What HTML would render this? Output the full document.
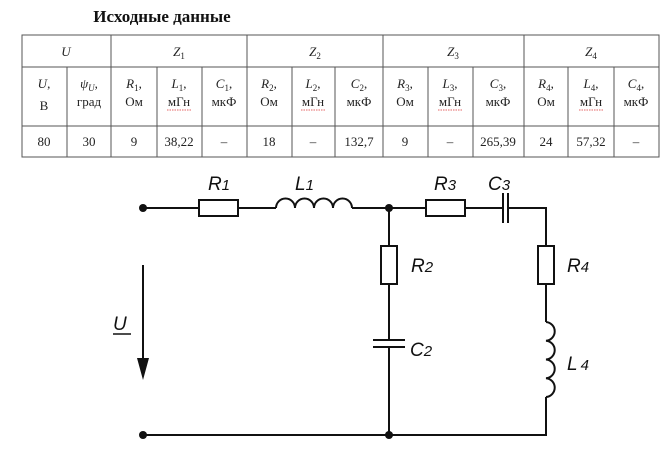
<!DOCTYPE html>
<html><head><meta charset="utf-8"><style>
html,body{margin:0;padding:0;background:#fff;}
svg{display:block;}
.t{font-family:"Liberation Serif",serif;font-size:13px;fill:#222;text-anchor:middle;}
.i{font-style:italic;}
.c{font-family:"Liberation Sans","DejaVu Sans",sans-serif;font-style:italic;font-size:19px;fill:#111;}
</style></head><body>
<svg width="666" height="453" viewBox="0 0 666 453" xmlns="http://www.w3.org/2000/svg">
<text x="162" y="22" font-family="Liberation Serif,serif" font-weight="bold" font-size="17" text-anchor="middle" fill="#111">Исходные данные</text>
<g stroke="#555" stroke-width="1" fill="none">
<rect x="22" y="35" width="637" height="122"/>
<line x1="22" y1="67" x2="659" y2="67"/>
<line x1="22" y1="126" x2="659" y2="126"/>
<line x1="111" y1="35" x2="111" y2="157"/>
<line x1="247" y1="35" x2="247" y2="157"/>
<line x1="383" y1="35" x2="383" y2="157"/>
<line x1="524" y1="35" x2="524" y2="157"/>
<line x1="67" y1="67" x2="67" y2="157"/>
<line x1="157" y1="67" x2="157" y2="157"/>
<line x1="202" y1="67" x2="202" y2="157"/>
<line x1="292" y1="67" x2="292" y2="157"/>
<line x1="335" y1="67" x2="335" y2="157"/>
<line x1="428" y1="67" x2="428" y2="157"/>
<line x1="473" y1="67" x2="473" y2="157"/>
<line x1="568" y1="67" x2="568" y2="157"/>
<line x1="614" y1="67" x2="614" y2="157"/>
</g>
<g class="t">
<text x="66" y="56" class="i">U</text>
<text x="179" y="56"><tspan class="i">Z</tspan><tspan font-size="9" dy="3">1</tspan></text>
<text x="315" y="56"><tspan class="i">Z</tspan><tspan font-size="9" dy="3">2</tspan></text>
<text x="453" y="56"><tspan class="i">Z</tspan><tspan font-size="9" dy="3">3</tspan></text>
<text x="591" y="56"><tspan class="i">Z</tspan><tspan font-size="9" dy="3">4</tspan></text>
<text x="44" y="88"><tspan class="i">U</tspan>,</text><text x="44" y="110">В</text>
<text x="89" y="88"><tspan class="i">ψ</tspan><tspan class="i" font-size="9" dy="3">U</tspan><tspan dy="-3">,</tspan></text><text x="89" y="106">град</text>
<text x="134" y="88"><tspan class="i">R</tspan><tspan font-size="9" dy="3">1</tspan><tspan dy="-3">,</tspan></text><text x="134" y="106">Ом</text>
<text x="179" y="88"><tspan class="i">L</tspan><tspan font-size="9" dy="3">1</tspan><tspan dy="-3">,</tspan></text><text x="179" y="106">мГн</text>
<text x="224" y="88"><tspan class="i">C</tspan><tspan font-size="9" dy="3">1</tspan><tspan dy="-3">,</tspan></text><text x="224" y="106">мкФ</text>
<text x="269" y="88"><tspan class="i">R</tspan><tspan font-size="9" dy="3">2</tspan><tspan dy="-3">,</tspan></text><text x="269" y="106">Ом</text>
<text x="313" y="88"><tspan class="i">L</tspan><tspan font-size="9" dy="3">2</tspan><tspan dy="-3">,</tspan></text><text x="313" y="106">мГн</text>
<text x="359" y="88"><tspan class="i">C</tspan><tspan font-size="9" dy="3">2</tspan><tspan dy="-3">,</tspan></text><text x="359" y="106">мкФ</text>
<text x="405" y="88"><tspan class="i">R</tspan><tspan font-size="9" dy="3">3</tspan><tspan dy="-3">,</tspan></text><text x="405" y="106">Ом</text>
<text x="450" y="88"><tspan class="i">L</tspan><tspan font-size="9" dy="3">3</tspan><tspan dy="-3">,</tspan></text><text x="450" y="106">мГн</text>
<text x="498" y="88"><tspan class="i">C</tspan><tspan font-size="9" dy="3">3</tspan><tspan dy="-3">,</tspan></text><text x="498" y="106">мкФ</text>
<text x="546" y="88"><tspan class="i">R</tspan><tspan font-size="9" dy="3">4</tspan><tspan dy="-3">,</tspan></text><text x="546" y="106">Ом</text>
<text x="591" y="88"><tspan class="i">L</tspan><tspan font-size="9" dy="3">4</tspan><tspan dy="-3">,</tspan></text><text x="591" y="106">мГн</text>
<text x="636" y="88"><tspan class="i">C</tspan><tspan font-size="9" dy="3">4</tspan><tspan dy="-3">,</tspan></text><text x="636" y="106">мкФ</text>
<text x="44" y="146">80</text><text x="89" y="146">30</text><text x="134" y="146">9</text><text x="179" y="146">38,22</text><text x="224" y="146">–</text>
<text x="269" y="146">18</text><text x="313" y="146">–</text><text x="359" y="146">132,7</text><text x="405" y="146">9</text><text x="450" y="146">–</text>
<text x="498" y="146">265,39</text><text x="546" y="146">24</text><text x="591" y="146">57,32</text><text x="636" y="146">–</text>
</g>
<g stroke="#d33" stroke-width="0.8" fill="none" stroke-dasharray="1.5,1">
<line x1="167" y1="110" x2="191" y2="110"/><line x1="301" y1="110" x2="325" y2="110"/><line x1="438" y1="110" x2="462" y2="110"/><line x1="579" y1="110" x2="603" y2="110"/>
</g>
<g stroke="#111" stroke-width="2" fill="none">
<path d="M143 208 H199 M238 208 H276 M352 208 H426 M465 208 H503 M508 208 H546 V246 M546 284 V322 M546 397 V435 H143"/>
<rect x="199" y="200" width="39" height="16" fill="#fff"/>
<rect x="426" y="200" width="39" height="16" fill="#fff"/>
<path d="M276 208 a9.5 9.5 0 0 1 19 0 a9.5 9.5 0 0 1 19 0 a9.5 9.5 0 0 1 19 0 a9.5 9.5 0 0 1 19 0"/>
<line x1="503" y1="193" x2="503" y2="223"/><line x1="508" y1="193" x2="508" y2="223"/>
<path d="M389 208 V246 M389 284 V340 M389 347 V435"/>
<rect x="381" y="246" width="16" height="38" fill="#fff"/>
<line x1="373" y1="340" x2="405" y2="340"/><line x1="373" y1="347" x2="405" y2="347"/>
<rect x="538" y="246" width="16" height="38" fill="#fff"/>
<path d="M546 322 a9.4 9.4 0 0 1 0 18.75 a9.4 9.4 0 0 1 0 18.75 a9.4 9.4 0 0 1 0 18.75 a9.4 9.4 0 0 1 0 18.75"/>
<line x1="143" y1="265" x2="143" y2="362"/>
</g>
<path d="M137 358 L149 358 L143 380 Z" fill="#111"/>
<g fill="#111"><circle cx="143" cy="208" r="4"/><circle cx="389" cy="208" r="4"/><circle cx="143" cy="435" r="4"/><circle cx="389" cy="435" r="4"/></g>
<g class="c">
<text x="208" y="190" textLength="22">R<tspan font-size="15">1</tspan></text>
<text x="295" y="190">L<tspan font-size="15">1</tspan></text>
<text x="434" y="190">R<tspan font-size="15">3</tspan></text>
<text x="488" y="190">C<tspan font-size="15">3</tspan></text>
<text x="411" y="272">R<tspan font-size="15">2</tspan></text>
<text x="410" y="356">C<tspan font-size="15">2</tspan></text>
<text x="567" y="272">R<tspan font-size="15">4</tspan></text>
<text x="567" y="370">L<tspan font-size="15" dx="3">4</tspan></text>
<text x="113" y="330">U</text>
</g>
<line x1="113" y1="334" x2="131" y2="334" stroke="#111" stroke-width="1.5"/>
</svg>
</body></html>
